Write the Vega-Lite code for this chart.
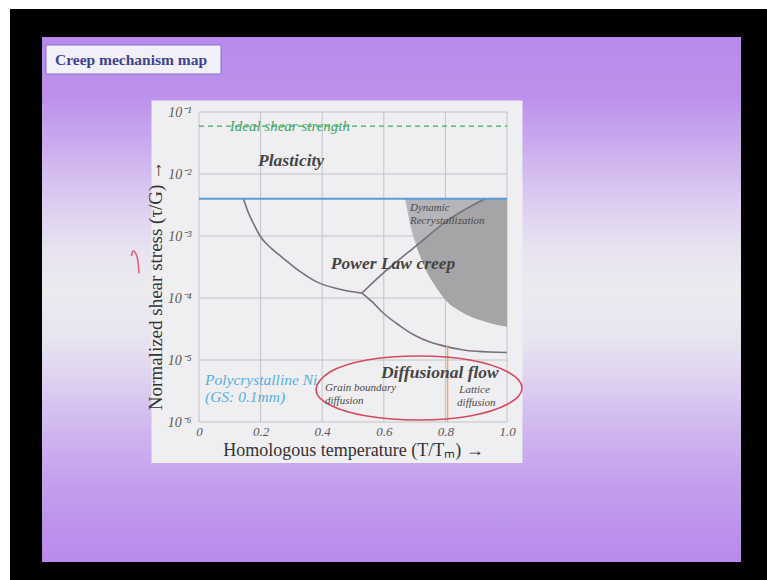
{
  "$schema": "https://vega.github.io/schema/vega-lite/v6.json",
  "width": 308,
  "height": 310,
  "autosize": {"type": "none"},
  "padding": {"left": 199, "top": 112, "right": 260, "bottom": 158},
  "background": "white",
  "config": {"view": {"stroke": null}},
  "datasets": {
    "curves": [
      {"seg": "a", "x": 0.144, "y": 0.00398},
      {"seg": "a", "x": 0.16, "y": 0.0024},
      {"seg": "a", "x": 0.18, "y": 0.00148},
      {"seg": "a", "x": 0.198, "y": 0.001},
      {"seg": "a", "x": 0.235, "y": 0.000631},
      {"seg": "a", "x": 0.274, "y": 0.000437},
      {"seg": "a", "x": 0.33, "y": 0.000263},
      {"seg": "a", "x": 0.382, "y": 0.000182},
      {"seg": "a", "x": 0.45, "y": 0.000141},
      {"seg": "a", "x": 0.529, "y": 0.00012},
      {"seg": "b", "x": 0.529, "y": 0.00012},
      {"seg": "b", "x": 0.56, "y": 0.0000891},
      {"seg": "b", "x": 0.6, "y": 0.0000562},
      {"seg": "b", "x": 0.65, "y": 0.0000363},
      {"seg": "b", "x": 0.7, "y": 0.0000251},
      {"seg": "b", "x": 0.75, "y": 0.0000195},
      {"seg": "b", "x": 0.8, "y": 0.0000166},
      {"seg": "b", "x": 0.85, "y": 0.0000148},
      {"seg": "b", "x": 0.9, "y": 0.0000138},
      {"seg": "b", "x": 1.0, "y": 0.0000132},
      {"seg": "c", "x": 0.529, "y": 0.00012},
      {"seg": "c", "x": 0.598, "y": 0.000251},
      {"seg": "c", "x": 0.707, "y": 0.000708},
      {"seg": "c", "x": 0.804, "y": 0.00174},
      {"seg": "c", "x": 0.89, "y": 0.00316},
      {"seg": "c", "x": 0.93, "y": 0.00398}
    ],
    "drxLight": [
      {"x": 0.669, "lo": 0.00398, "hi": 0.00398},
      {"x": 0.675, "lo": 0.00282, "hi": 0.00398},
      {"x": 0.685, "lo": 0.00158, "hi": 0.00398},
      {"x": 0.7, "lo": 0.000851, "hi": 0.00398},
      {"x": 0.72, "lo": 0.000447, "hi": 0.00398},
      {"x": 0.74, "lo": 0.000263, "hi": 0.00398},
      {"x": 0.77, "lo": 0.000151, "hi": 0.00398},
      {"x": 0.8, "lo": 0.0000933, "hi": 0.00398},
      {"x": 0.85, "lo": 0.0000603, "hi": 0.00398},
      {"x": 0.9, "lo": 0.0000468, "hi": 0.00398},
      {"x": 0.95, "lo": 0.0000389, "hi": 0.00398},
      {"x": 1.0, "lo": 0.0000347, "hi": 0.00398}
    ],
    "drxDark": [
      {"x": 0.705, "lo": 0.000692, "hi": 0.000692},
      {"x": 0.72, "lo": 0.000447, "hi": 0.000832},
      {"x": 0.74, "lo": 0.000263, "hi": 0.001},
      {"x": 0.77, "lo": 0.000151, "hi": 0.00129},
      {"x": 0.804, "lo": 0.0000891, "hi": 0.00174},
      {"x": 0.85, "lo": 0.0000603, "hi": 0.0024},
      {"x": 0.89, "lo": 0.0000479, "hi": 0.00316},
      {"x": 0.93, "lo": 0.0000417, "hi": 0.00398},
      {"x": 0.95, "lo": 0.0000389, "hi": 0.00398},
      {"x": 1.0, "lo": 0.0000347, "hi": 0.00398}
    ],
    "ellipse": [
      {"o": 0, "x": 1.049, "y": 0.00000353},
      {"o": 1, "x": 1.003, "y": 0.0000064},
      {"o": 2, "x": 0.88, "y": 0.00001},
      {"o": 3, "x": 0.714, "y": 0.0000116},
      {"o": 4, "x": 0.545, "y": 0.00001},
      {"o": 5, "x": 0.425, "y": 0.0000064},
      {"o": 6, "x": 0.38, "y": 0.00000328},
      {"o": 7, "x": 0.425, "y": 0.00000188},
      {"o": 8, "x": 0.545, "y": 0.00000125},
      {"o": 9, "x": 0.714, "y": 0.00000108},
      {"o": 10, "x": 0.88, "y": 0.00000125},
      {"o": 11, "x": 1.003, "y": 0.00000195}
    ],
    "hook": [
      {"o": 0, "x": -0.219, "y": 0.000475},
      {"o": 1, "x": -0.214, "y": 0.000573},
      {"o": 2, "x": -0.203, "y": 0.000494},
      {"o": 3, "x": -0.198, "y": 0.000385},
      {"o": 4, "x": -0.195, "y": 0.00025}
    ],
    "gridX": [{"v": 0}, {"v": 0.2}, {"v": 0.4}, {"v": 0.6}, {"v": 0.8}, {"v": 1.0}],
    "gridY": [{"v": 0.1}, {"v": 0.01}, {"v": 0.001}, {"v": 0.0001}, {"v": 0.00001}, {"v": 0.000001}],
    "one": [{}]
  },
  "layer": [
    {
      "data": {"name": "one"},
      "mark": {"type": "rect", "fill": "black"},
      "encoding": {
        "x": {"datum": -0.6136, "type": "quantitative"},
        "x2": {"datum": 2.0},
        "y": {"datum": 4.58, "type": "quantitative"},
        "y2": {"datum": 0.000000001}
      }
    },
    {
      "data": {"name": "one"},
      "mark": {
        "type": "rect",
        "fill": {
          "gradient": "linear", "x1": 0, "y1": 0, "x2": 0, "y2": 1,
          "stops": [
            {"offset": 0, "color": "#b98aed"},
            {"offset": 0.12, "color": "#bd92ec"},
            {"offset": 0.2, "color": "#c9aaee"},
            {"offset": 0.31, "color": "#dccbf0"},
            {"offset": 0.4, "color": "#e8e2f1"},
            {"offset": 0.48, "color": "#ebebf0"},
            {"offset": 0.575, "color": "#e8e4f1"},
            {"offset": 0.65, "color": "#dfd2f0"},
            {"offset": 0.75, "color": "#cfb6ef"},
            {"offset": 0.86, "color": "#c29ded"},
            {"offset": 1, "color": "#b98aed"}
          ]
        }
      },
      "encoding": {
        "x": {"datum": -0.5097, "type": "quantitative"},
        "x2": {"datum": 1.7597},
        "y": {"datum": 1.621, "type": "quantitative"},
        "y2": {"datum": 0.00000000552}
      }
    },
    {
      "data": {"name": "one"},
      "mark": {"type": "rect", "fill": "#f3eff9", "stroke": "#8474c4", "strokeWidth": 1},
      "encoding": {
        "x": {"datum": -0.4968, "type": "quantitative"},
        "x2": {"datum": 0.0714},
        "y": {"datum": 1.204, "type": "quantitative"},
        "y2": {"datum": 0.41}
      }
    },
    {
      "data": {"name": "one"},
      "mark": {"type": "text", "text": "Creep mechanism map", "font": "Liberation Serif", "fontSize": 15.5, "fontWeight": "bold", "color": "#3d4590", "align": "left", "baseline": "middle"},
      "encoding": {
        "x": {"datum": -0.4675, "type": "quantitative"},
        "y": {"datum": 0.69, "type": "quantitative"}
      }
    },
    {
      "data": {"name": "one"},
      "mark": {"type": "rect", "fill": "#efeef1"},
      "encoding": {
        "x": {"datum": -0.1542, "type": "quantitative"},
        "x2": {"datum": 1.0503},
        "y": {"datum": 0.1533, "type": "quantitative"},
        "y2": {"datum": 0.000000218}
      }
    },
    {
      "data": {"name": "gridX"},
      "mark": {"type": "rule", "color": "#c4c2c7", "strokeWidth": 1},
      "encoding": {
        "x": {"field": "v", "type": "quantitative"},
        "y": {"datum": 0.000001, "type": "quantitative"},
        "y2": {"datum": 0.1}
      }
    },
    {
      "data": {"name": "gridY"},
      "mark": {"type": "rule", "color": "#c4c2c7", "strokeWidth": 1},
      "encoding": {
        "y": {"field": "v", "type": "quantitative"},
        "x": {"datum": 0, "type": "quantitative"},
        "x2": {"datum": 1}
      }
    },
    {
      "data": {"name": "drxLight"},
      "mark": {"type": "area", "color": "#b5b4b8", "interpolate": "monotone"},
      "encoding": {
        "x": {"field": "x", "type": "quantitative"},
        "y": {"field": "lo", "type": "quantitative"},
        "y2": {"field": "hi"}
      }
    },
    {
      "data": {"name": "drxDark"},
      "mark": {"type": "area", "color": "#a5a4a7", "interpolate": "monotone"},
      "encoding": {
        "x": {"field": "x", "type": "quantitative"},
        "y": {"field": "lo", "type": "quantitative"},
        "y2": {"field": "hi"}
      }
    },
    {
      "data": {"name": "curves"},
      "mark": {"type": "line", "color": "#7b6f79", "strokeWidth": 1.6, "interpolate": "monotone"},
      "encoding": {
        "x": {
          "field": "x", "type": "quantitative",
          "scale": {"domain": [0, 1], "nice": false, "zero": false},
          "axis": {
            "title": "Homologous temperature (T/Tₘ) →",
            "values": [0, 0.2, 0.4, 0.6, 0.8, 1],
            "labelExpr": "datum.value == 0 ? '0' : format(datum.value, '.1f')",
            "grid": false, "ticks": false, "domain": false,
            "labelFont": "Liberation Serif", "labelFontStyle": "italic", "labelFontSize": 13,
            "labelColor": "#5a5a5a", "labelPadding": 3, "labelFlush": false,
            "titleFont": "Liberation Serif", "titleFontSize": 18, "titleFontWeight": "normal",
            "titleColor": "#333333", "titlePadding": 3, "zindex": 1
          }
        },
        "y": {
          "field": "y", "type": "quantitative",
          "scale": {"type": "log", "domain": [0.000001, 0.1], "nice": false},
          "axis": {
            "title": "Normalized shear stress (τ/G) →",
            "values": [0.000001, 0.00001, 0.0001, 0.001, 0.01, 0.1],
            "labelExpr": "datum.value < 0.000005 ? '10⁻⁶' : datum.value < 0.00005 ? '10⁻⁵' : datum.value < 0.0005 ? '10⁻⁴' : datum.value < 0.005 ? '10⁻³' : datum.value < 0.05 ? '10⁻²' : '10⁻¹'",
            "grid": false, "ticks": false, "domain": false,
            "labelFont": "Liberation Serif", "labelFontStyle": "italic", "labelFontSize": 14,
            "labelColor": "#5a5a5a", "labelPadding": 8, "labelFlush": false,
            "titleFont": "Liberation Serif", "titleFontSize": 19, "titleFontWeight": "normal",
            "titleColor": "#333333", "titlePadding": 2, "titleY": 173, "zindex": 1
          }
        },
        "detail": {"field": "seg"}
      }
    },
    {
      "data": {"name": "one"},
      "mark": {"type": "rule", "color": "#5e9bd0", "strokeWidth": 2},
      "encoding": {
        "x": {"datum": 0, "type": "quantitative"},
        "x2": {"datum": 1},
        "y": {"datum": 0.00398, "type": "quantitative"}
      }
    },
    {
      "data": {"name": "one"},
      "mark": {"type": "rule", "color": "#47a86a", "strokeWidth": 1.3, "strokeDash": [5, 4]},
      "encoding": {
        "x": {"datum": 0, "type": "quantitative"},
        "x2": {"datum": 1},
        "y": {"datum": 0.059, "type": "quantitative"}
      }
    },
    {
      "data": {"name": "one"},
      "mark": {"type": "rule", "color": "#e9a870", "strokeWidth": 1.5},
      "encoding": {
        "x": {"datum": 0.807, "type": "quantitative"},
        "y": {"datum": 0.0000174, "type": "quantitative"},
        "y2": {"datum": 0.000001}
      }
    },
    {
      "data": {"name": "ellipse"},
      "mark": {"type": "line", "color": "#d44a5e", "strokeWidth": 1.6, "interpolate": "cardinal-closed"},
      "encoding": {
        "x": {"field": "x", "type": "quantitative"},
        "y": {"field": "y", "type": "quantitative"},
        "order": {"field": "o"}
      }
    },
    {
      "data": {"name": "hook"},
      "mark": {"type": "line", "color": "#e0607a", "strokeWidth": 1.6, "interpolate": "cardinal"},
      "encoding": {
        "x": {"field": "x", "type": "quantitative"},
        "y": {"field": "y", "type": "quantitative"},
        "order": {"field": "o"}
      }
    },
    {
      "data": {"name": "one"},
      "mark": {"type": "text", "text": "Ideal shear strength", "font": "Liberation Serif", "fontSize": 15, "fontStyle": "italic", "color": "#3fa66a", "align": "center", "baseline": "middle"},
      "encoding": {"x": {"datum": 0.295, "type": "quantitative"}, "y": {"datum": 0.059, "type": "quantitative"}}
    },
    {
      "data": {"name": "one"},
      "mark": {"type": "text", "text": "Plasticity", "font": "Liberation Serif", "fontSize": 17.5, "fontStyle": "italic", "fontWeight": "bold", "color": "#454545", "align": "center", "baseline": "middle"},
      "encoding": {"x": {"datum": 0.299, "type": "quantitative"}, "y": {"datum": 0.0162, "type": "quantitative"}}
    },
    {
      "data": {"name": "one"},
      "mark": {"type": "text", "text": "Dynamic", "font": "Liberation Serif", "fontSize": 11, "fontStyle": "italic", "color": "#4a4a4a", "align": "left", "baseline": "middle"},
      "encoding": {"x": {"datum": 0.685, "type": "quantitative"}, "y": {"datum": 0.00283, "type": "quantitative"}}
    },
    {
      "data": {"name": "one"},
      "mark": {"type": "text", "text": "Recrystallization", "font": "Liberation Serif", "fontSize": 11, "fontStyle": "italic", "color": "#4a4a4a", "align": "left", "baseline": "middle"},
      "encoding": {"x": {"datum": 0.685, "type": "quantitative"}, "y": {"datum": 0.00175, "type": "quantitative"}}
    },
    {
      "data": {"name": "one"},
      "mark": {"type": "text", "text": "Power Law creep", "font": "Liberation Serif", "fontSize": 17.5, "fontStyle": "italic", "fontWeight": "bold", "color": "#454545", "align": "center", "baseline": "middle"},
      "encoding": {"x": {"datum": 0.63, "type": "quantitative"}, "y": {"datum": 0.000355, "type": "quantitative"}}
    },
    {
      "data": {"name": "one"},
      "mark": {"type": "text", "text": "Diffusional flow", "font": "Liberation Serif", "fontSize": 17.5, "fontStyle": "italic", "fontWeight": "bold", "color": "#454545", "align": "center", "baseline": "middle"},
      "encoding": {"x": {"datum": 0.782, "type": "quantitative"}, "y": {"datum": 0.00000617, "type": "quantitative"}}
    },
    {
      "data": {"name": "one"},
      "mark": {"type": "text", "text": "Grain boundary", "font": "Liberation Serif", "fontSize": 11, "fontStyle": "italic", "color": "#4a4a4a", "align": "left", "baseline": "middle"},
      "encoding": {"x": {"datum": 0.409, "type": "quantitative"}, "y": {"datum": 0.00000353, "type": "quantitative"}}
    },
    {
      "data": {"name": "one"},
      "mark": {"type": "text", "text": "diffusion", "font": "Liberation Serif", "fontSize": 11, "fontStyle": "italic", "color": "#4a4a4a", "align": "left", "baseline": "middle"},
      "encoding": {"x": {"datum": 0.409, "type": "quantitative"}, "y": {"datum": 0.00000218, "type": "quantitative"}}
    },
    {
      "data": {"name": "one"},
      "mark": {"type": "text", "text": "Lattice", "font": "Liberation Serif", "fontSize": 11, "fontStyle": "italic", "color": "#4a4a4a", "align": "left", "baseline": "middle"},
      "encoding": {"x": {"datum": 0.845, "type": "quantitative"}, "y": {"datum": 0.00000328, "type": "quantitative"}}
    },
    {
      "data": {"name": "one"},
      "mark": {"type": "text", "text": "diffusion", "font": "Liberation Serif", "fontSize": 11, "fontStyle": "italic", "color": "#4a4a4a", "align": "left", "baseline": "middle"},
      "encoding": {"x": {"datum": 0.838, "type": "quantitative"}, "y": {"datum": 0.00000202, "type": "quantitative"}}
    },
    {
      "data": {"name": "one"},
      "mark": {"type": "text", "text": "Polycrystalline Ni", "font": "Liberation Serif", "fontSize": 15.5, "fontStyle": "italic", "color": "#55aede", "align": "left", "baseline": "middle"},
      "encoding": {"x": {"datum": 0.0195, "type": "quantitative"}, "y": {"datum": 0.00000479, "type": "quantitative"}}
    },
    {
      "data": {"name": "one"},
      "mark": {"type": "text", "text": "(GS: 0.1mm)", "font": "Liberation Serif", "fontSize": 15.5, "fontStyle": "italic", "color": "#55aede", "align": "left", "baseline": "middle"},
      "encoding": {"x": {"datum": 0.0195, "type": "quantitative"}, "y": {"datum": 0.00000251, "type": "quantitative"}}
    }
  ]
}
